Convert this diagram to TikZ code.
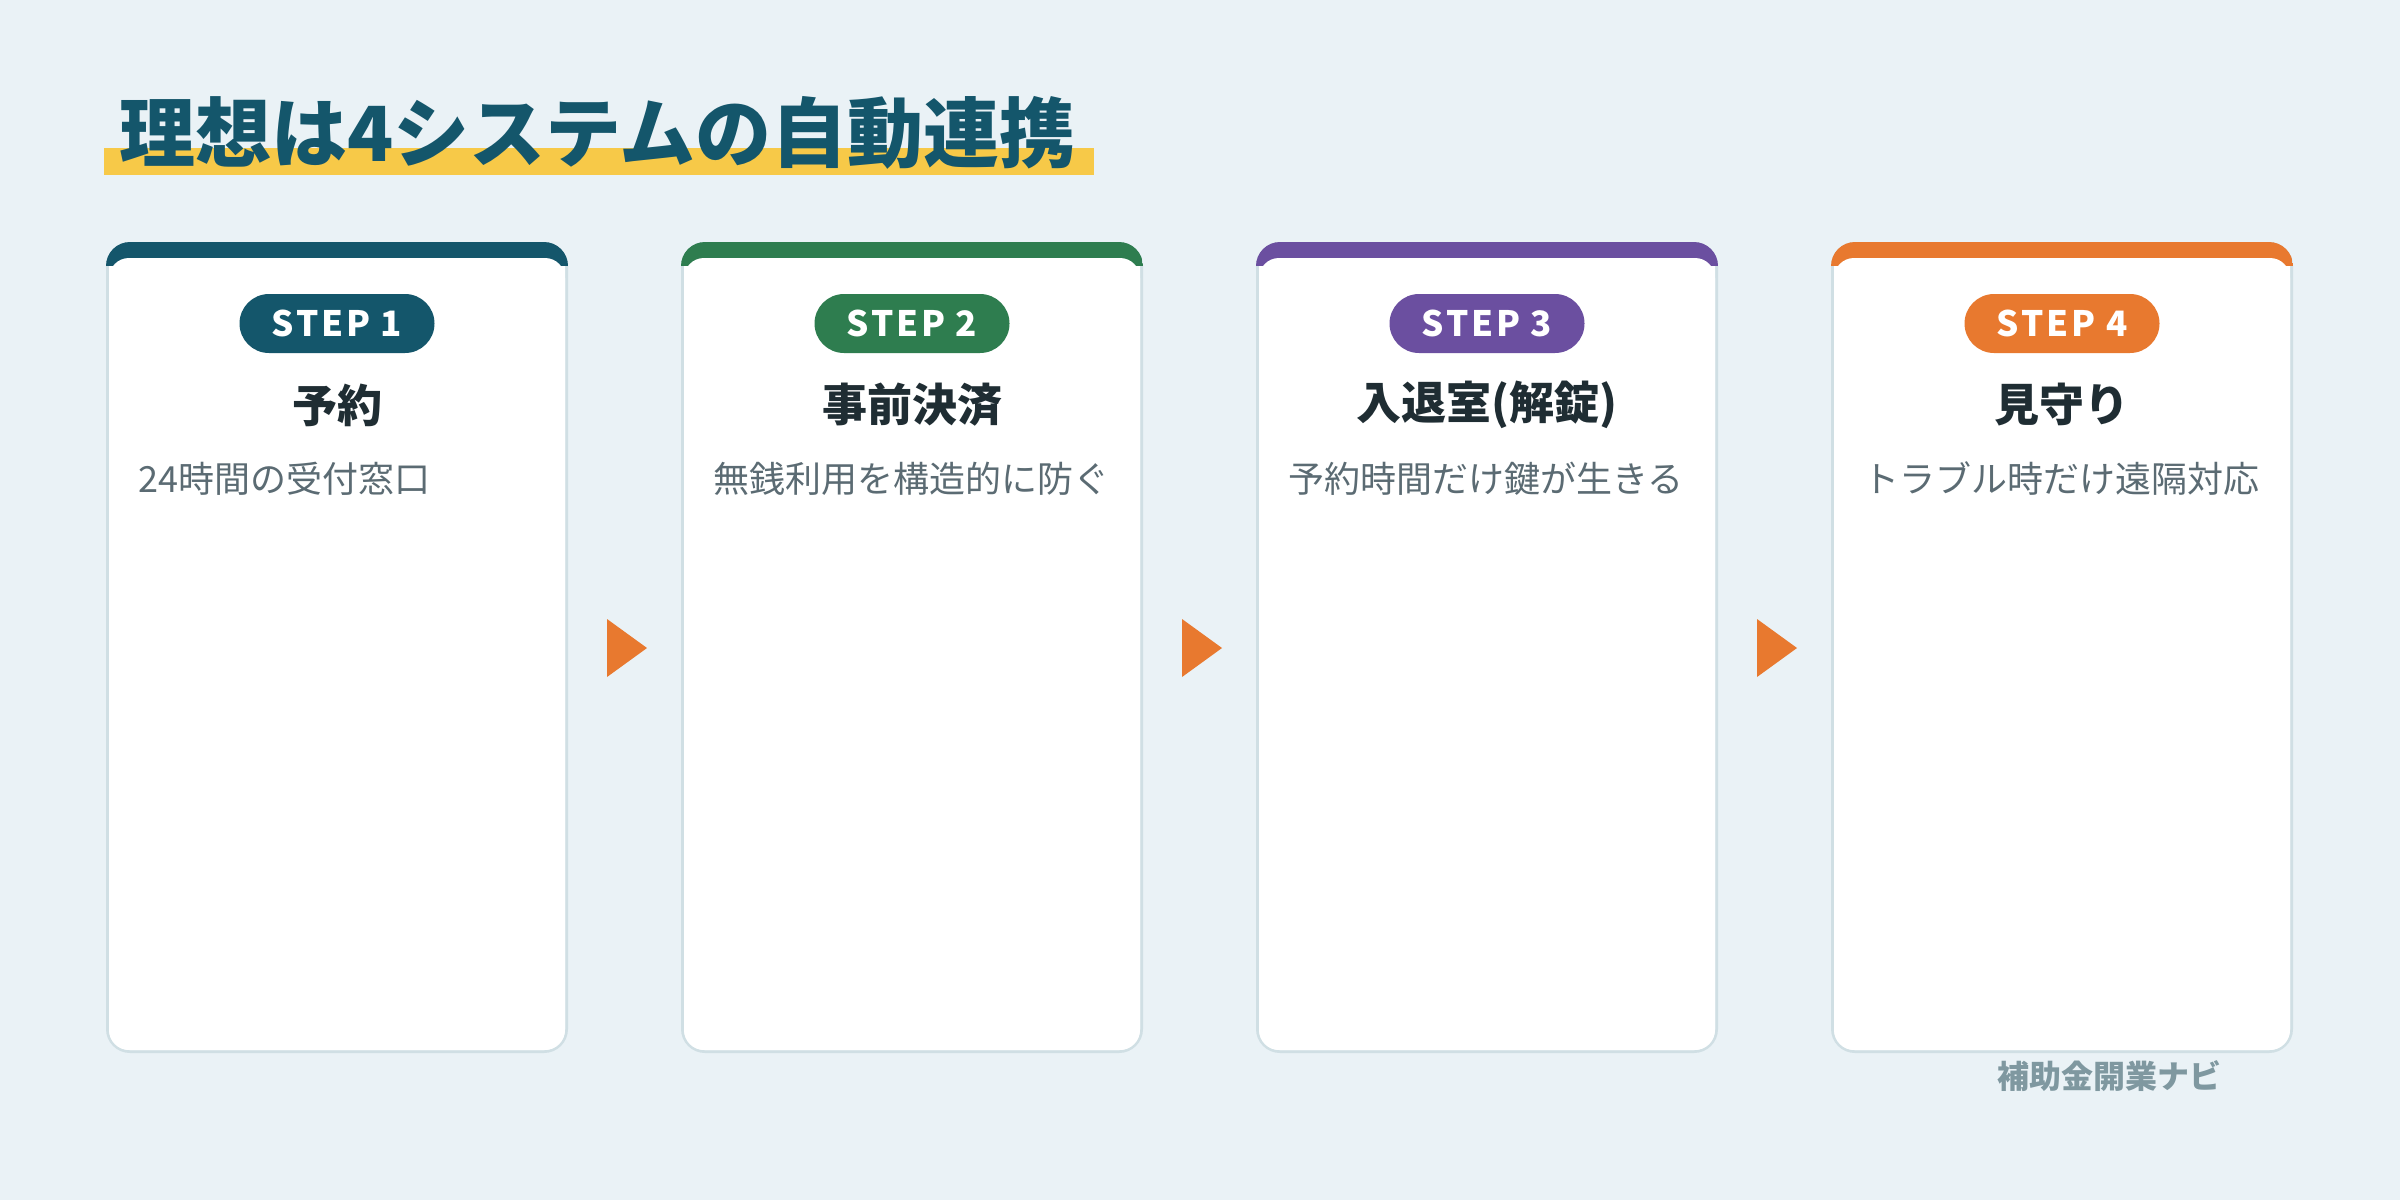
\documentclass[tikz,border=0pt]{standalone}
\usepackage{fontspec}
\setmainfont{Noto Sans CJK JP}
\definecolor{bgc}{HTML}{EAF2F6}
\definecolor{ylw}{HTML}{F7C948}
\definecolor{ttl}{HTML}{14566B}
\definecolor{sA}{HTML}{14566B}
\definecolor{sB}{HTML}{2E7D4F}
\definecolor{sC}{HTML}{6B4FA0}
\definecolor{sD}{HTML}{E8792F}
\definecolor{bd}{HTML}{D0DFE4}
\definecolor{hd}{HTML}{1F2D33}
\definecolor{sub}{HTML}{5B6B73}
\definecolor{foot}{HTML}{7F98A0}
\definecolor{arr}{HTML}{E8792F}
\tikzset{
  badge/.style={inner sep=0pt, minimum width=195pt, minimum height=59pt, rounded corners=29.5pt, text=white, font=\fontsize{35}{40}\selectfont\bfseries\addfontfeatures{LetterSpace=8}},
  cardtitle/.style={inner sep=0pt, text=hd, font=\fontsize{45}{54}\selectfont\bfseries},
  cardsub/.style={inner sep=0pt, anchor=west, text=sub, font=\fontsize{36}{44}\selectfont},
}
\begin{document}
\begin{tikzpicture}[x=1pt,y=-1pt]
\useasboundingbox (0,0) rectangle (2400,1200);
\fill[bgc] (0,0) rectangle (2400,1200);
\fill[ylw] (104,148) rectangle (1094,175);
\node[anchor=west, inner sep=0pt, text=ttl, font=\fontsize{76}{90}\selectfont\bfseries] (title) at (119,133) {理想は4システムの自動連携};
\foreach \i/\c/\n/\t/\s in {0/sA/1/{予約}/{24時間の受付窓口},1/sB/2/{事前決済}/{無銭利用を構造的に防ぐ},2/sC/3/{入退室(解錠)}/{予約時間だけ鍵が生きる},3/sD/4/{見守り}/{トラブル時だけ遠隔対応}}{
  \pgfmathsetmacro{\x}{106+575*\i}
  \fill[bd, rounded corners=24pt] (\x,242) rectangle (\x+462,1053);
  \fill[white, rounded corners=21pt] (\x+3,245) rectangle (\x+459,1050);
  \begin{scope}
    \clip[rounded corners=24pt] (\x,242) rectangle (\x+462,1053);
    \fill[\c] (\x,242) rectangle (\x+462,266);
  \end{scope}
  \fill[white, rounded corners=20pt] (\x+3,258) rectangle (\x+459,1050);
  \node[badge, fill=\c] (b\n) at (\x+231,323.5) {STEP \n};
  \node[cardtitle] (t\n) at (\x+231,405) {\t};
  \node[cardsub] (s\n) at (\x+32,479) {\s};
}
\foreach \i in {0,1,2}{
  \pgfmathsetmacro{\a}{607+575*\i}
  \fill[arr] (\a,619) -- (\a+40,648) -- (\a,677) -- cycle;
}
\node[inner sep=0pt, text=foot, font=\fontsize{32}{38}\selectfont\bfseries] (footer) at (2109,1076) {補助金開業ナビ};
\end{tikzpicture}
\end{document}
